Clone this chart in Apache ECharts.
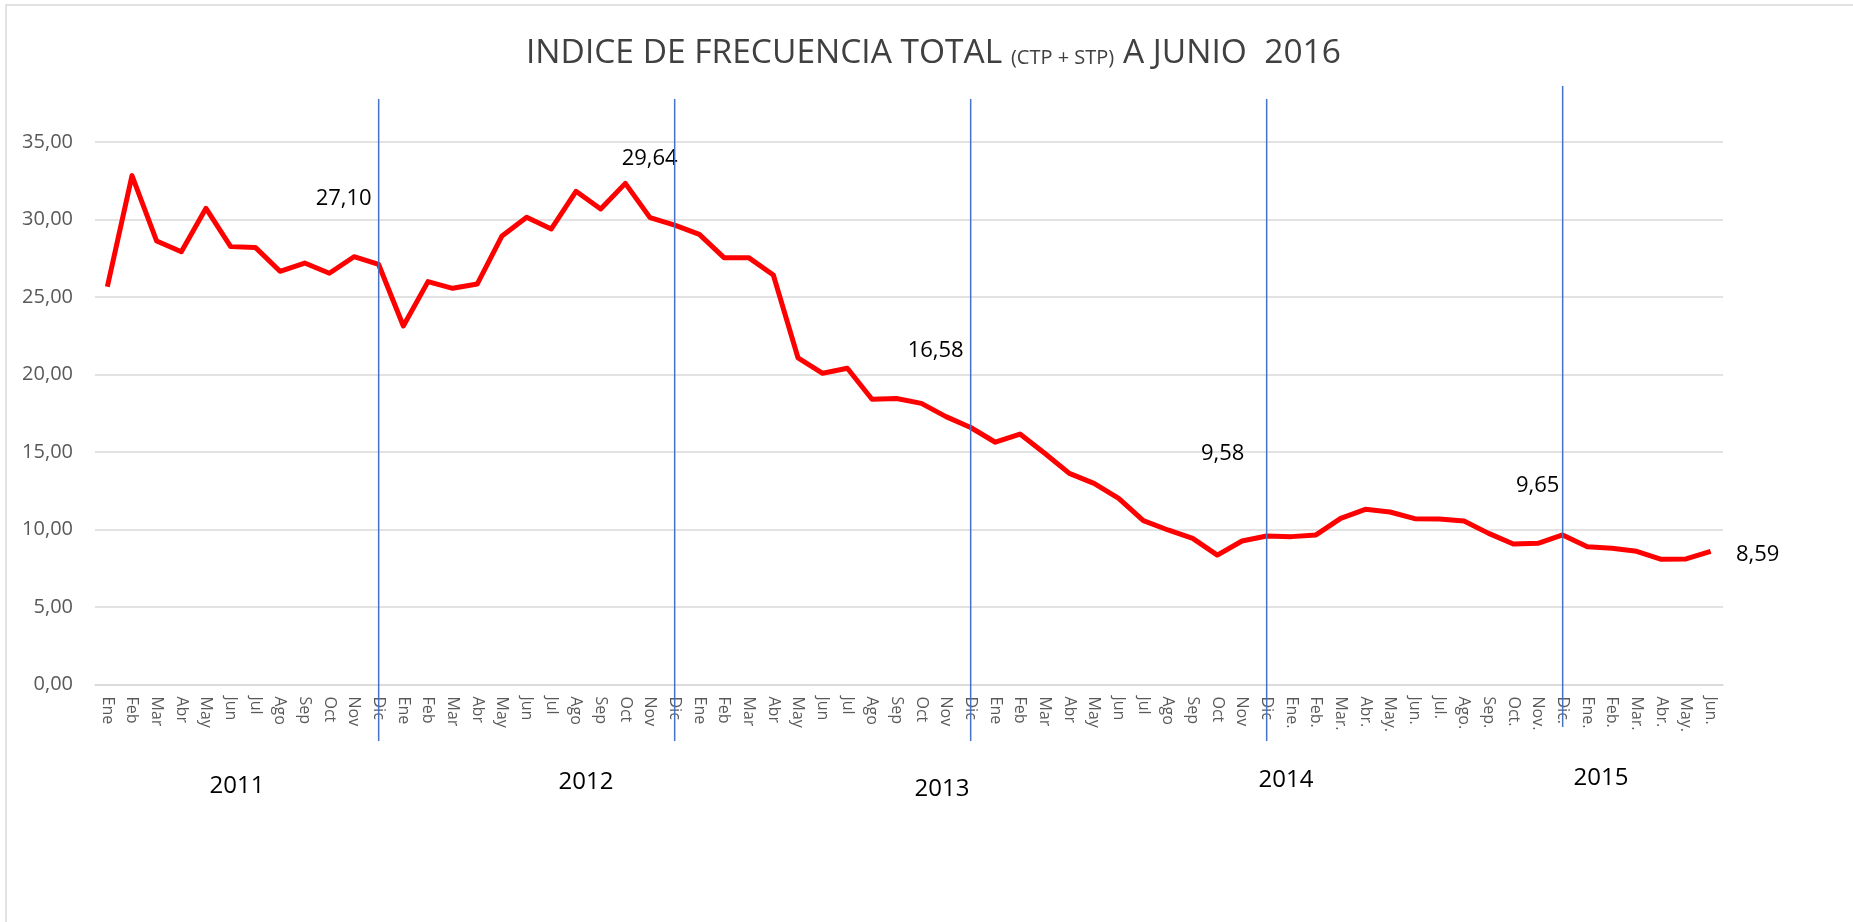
<!DOCTYPE html>
<html>
<head>
<meta charset="utf-8">
<title>Indice de frecuencia total</title>
<script src="https://cdn.jsdelivr.net/npm/echarts@6/dist/echarts.min.js"></script>
<style>
  html, body { margin: 0; padding: 0; background: #fff; }
  #chart { width: 1853px; height: 922px; }
</style>
</head>
<body>
<div id="chart"></div>
<script>
// meses, Ene 2011 .. Jun 2016
const meses = [
  'Ene','Feb','Mar','Abr','May','Jun','Jul','Ago','Sep','Oct','Nov','Dic',
  'Ene','Feb','Mar','Abr','May','Jun','Jul','Ago','Sep','Oct','Nov','Dic',
  'Ene','Feb','Mar','Abr','May','Jun','Jul','Ago','Sep','Oct','Nov','Dic',
  'Ene','Feb','Mar','Abr','May','Jun','Jul','Ago','Sep','Oct','Nov','Dic',
  'Ene.','Feb.','Mar.','Abr.','May.','Jun.','Jul.','Ago.','Sep.','Oct.','Nov.','Dic.',
  'Ene.','Feb.','Mar.','Abr.','May.','Jun.'
];

const indice = [
  25.66, 32.83, 28.61, 27.92, 30.72, 28.25, 28.20, 26.66, 27.19, 26.53, 27.60, 27.10,
  23.13, 25.99, 25.56, 25.84, 28.94, 30.14, 29.39, 31.82, 30.68, 32.33, 30.12, 29.64,
  29.04, 27.54, 27.54, 26.42, 21.08, 20.08, 20.40, 18.40, 18.45, 18.14, 17.28, 16.58,
  15.63, 16.16, 14.92, 13.62, 12.98, 12.01, 10.57, 9.97, 9.43, 8.35, 9.26, 9.58,
  9.54, 9.65, 10.72, 11.30, 11.13, 10.70, 10.68, 10.55, 9.75, 9.06, 9.11, 9.65,
  8.89, 8.79, 8.59, 8.08, 8.10, 8.59
];

// puntos con etiqueta (cierre de cada año y último dato)
const conEtiqueta = [11, 23, 35, 47, 59, 65];
const anios = ['2011', '2012', '2013', '2014', '2015'];
const yTicks = [0, 5, 10, 15, 20, 25, 30, 35];

// desplazamiento de cada etiqueta respecto al punto (px)
const etiquetaOffset = {
  11: [-35, -66], 23: [-25, -66], 35: [-35, -77],
  47: [-44, -82], 59: [-25, -49], 65: [47, 3]
};
const aniosPos = [[237, 786], [586, 782], [942, 789], [1286, 780], [1601, 778]];

const fmt = v => v.toFixed(2).replace('.', ',');
const FONT = '"Open Sans", "Liberation Sans", sans-serif';

const serieData = indice.map((v, i) => {
  if (conEtiqueta.indexOf(i) < 0) return v;
  return {
    value: v,
    label: { show: true, position: 'inside', offset: etiquetaOffset[i] }
  };
});

const chart = echarts.init(document.getElementById('chart'));

const option = {
  animation: false,
  backgroundColor: '#fff',
  textStyle: { fontFamily: FONT },
  title: {
    text: '{a|INDICE DE FRECUENCIA TOTAL }{b|(CTP + STP)}{a| A JUNIO  2016}',
    left: 521,
    top: 31,
    textStyle: {
      fontWeight: 'normal',
      rich: {
        a: { fontSize: 33.5, fontWeight: 'normal', color: '#404040', fontFamily: FONT, verticalAlign: 'bottom' },
        b: { fontSize: 20, fontWeight: 'normal', color: '#404040', fontFamily: FONT, verticalAlign: 'bottom', padding: [0, 0, 2, 0] }
      }
    }
  },
  grid: { left: 95, right: 130, top: 142, bottom: 237.5 },
  xAxis: {
    type: 'category',
    data: meses,
    boundaryGap: true,
    axisLine: { show: true, lineStyle: { color: '#D9D9D9', width: 1.5 } },
    axisTick: { show: false },
    axisLabel: {
      interval: 0,
      rotate: -90,
      margin: 12,
      fontSize: 16,
      color: '#595959',
      fontFamily: FONT
    }
  },
  yAxis: {
    type: 'value',
    min: yTicks[0],
    max: yTicks[yTicks.length - 1],
    interval: 5,
    axisLine: { show: false },
    axisTick: { show: false },
    splitLine: { lineStyle: { color: '#D9D9D9', width: 1.5 } },
    axisLabel: {
      margin: 22,
      fontSize: 20,
      color: '#595959',
      fontFamily: FONT,
      formatter: v => fmt(v)
    }
  },
  series: [{
    type: 'line',
    data: serieData,
    symbol: 'circle',
    symbolSize: 0,
    showSymbol: true,
    lineStyle: { color: '#FF0000', width: 5, join: 'round' },
    itemStyle: { color: '#FF0000' },
    label: {
      show: false,
      fontSize: 22,
      color: '#000',
      fontFamily: FONT,
      formatter: p => fmt(p.value)
    },
    emphasis: { disabled: true }
  }]
};

chart.setOption(option);

// líneas azules en cada Dic y rótulos de año
const grafico = [{
  type: 'rect',
  shape: { x: 6, y: 5, width: 1900, height: 1000 },
  style: { fill: 'none', stroke: '#D9D9D9', lineWidth: 1.5 },
  silent: true
}];
[11, 23, 35, 47, 59].forEach((idx, k) => {
  const x = chart.convertToPixel({ xAxisIndex: 0 }, idx);
  const y0 = k === 4 ? 86 : 99;
  const y1 = k === 4 ? 727 : 741;
  grafico.push({
    type: 'line',
    shape: { x1: x, y1: y0, x2: x, y2: y1 },
    style: { stroke: '#4472C4', lineWidth: 1.5 },
    z: 10,
    silent: true
  });
});
anios.forEach((a, k) => {
  grafico.push({
    type: 'text',
    x: aniosPos[k][0],
    y: aniosPos[k][1],
    style: {
      text: a,
      fontSize: 24,
      fontFamily: FONT,
      fill: '#000',
      align: 'center',
      verticalAlign: 'middle'
    },
    silent: true
  });
});
chart.setOption({ graphic: grafico });
</script>
</body>
</html>
